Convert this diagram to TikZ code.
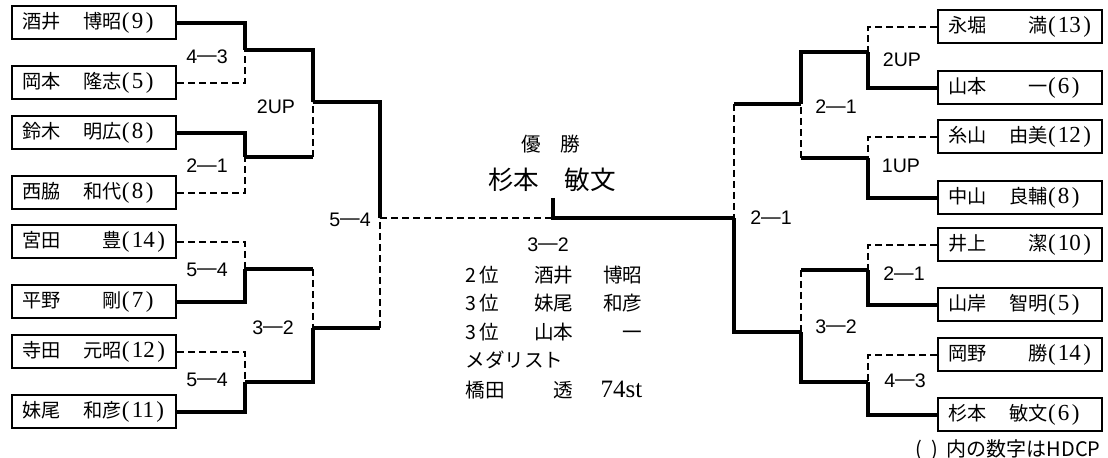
\documentclass[tikz,border=0pt]{standalone}
\usepackage{fontspec}
\setmainfont{Liberation Serif}
\newfontfamily\jp{Noto Sans CJK JP}
\newfontfamily\gothic{Liberation Sans}
\usepackage{tikz}

\newcommand{\hdcp}[1]{{\rmfamily\fontsize{11.5}{12}\selectfont(\kern.1em#1\kern.1em)}}
\newcommand{\pname}[3]{\makebox[50pt]{\jp #1\hfill #2}\hdcp{#3}}
\newcommand{\mscore}[2]{#1\raisebox{.09em}{—}#2}
\newcommand{\rrow}[3]{\makebox[54pt]{#1\hfill #2}\makebox[34.5pt][r]{#3}}

\tikzset{
  player/.style = {draw , line width = 1pt , minimum width = 82pt , minimum height = 16.5pt ,
    inner xsep = 5pt , inner ysep = 0pt , text width = 72pt , align = left , font = \fontsize{9.6}{10}\selectfont},
  win/.style = {line width = 1.6pt},
  lose/.style = {line width = 0.8pt , dash pattern = on 3.5pt off 2pt},
  score/.style = {font = \gothic\fontsize{9.8}{10}\selectfont , inner sep = 0pt},
  rank/.style = {font = \jp\fontsize{9.8}{10}\selectfont , inner sep = 0pt , anchor = west},
}

\begin{document}
\begin{tikzpicture}[x = 0.5pt , y = -0.5pt]
    \useasboundingbox (0,0) rectangle (1108,458);

    % left half
    \node[player , anchor = east] (L1) at (177,23) {\pname{酒井}{博昭}{9}};
    \node[player , anchor = east] (L2) at (177,83) {\pname{岡本}{隆志}{5}};
    \node[player , anchor = east] (L3) at (177,133) {\pname{鈴木}{明広}{8}};
    \node[player , anchor = east] (L4) at (177,193) {\pname{西脇}{和代}{8}};
    \node[player , anchor = east] (L5) at (177,242) {\pname{宮田}{豊}{14}};
    \node[player , anchor = east] (L6) at (177,302) {\pname{平野}{剛}{7}};
    \node[player , anchor = east] (L7) at (177,352) {\pname{寺田}{元昭}{12}};
    \node[player , anchor = east] (L8) at (177,412) {\pname{妹尾}{和彦}{11}};

    % right half
    \node[player , anchor = west] (R1) at (937,27) {\pname{永堀}{満}{13}};
    \node[player , anchor = west] (R2) at (937,88) {\pname{山本}{一}{6}};
    \node[player , anchor = west] (R3) at (937,137) {\pname{糸山}{由美}{12}};
    \node[player , anchor = west] (R4) at (937,198) {\pname{中山}{良輔}{8}};
    \node[player , anchor = west] (R5) at (937,245) {\pname{井上}{潔}{10}};
    \node[player , anchor = west] (R6) at (937,305) {\pname{山岸}{智明}{5}};
    \node[player , anchor = west] (R7) at (937,355) {\pname{岡野}{勝}{14}};
    \node[player , anchor = west] (R8) at (937,415) {\pname{杉本}{敏文}{6}};

    % junctions
    \coordinate (a1) at (245,50);
    \coordinate (a2) at (245,157);
    \coordinate (a3) at (245,269);
    \coordinate (a4) at (245,382);
    \coordinate (b1) at (313,102);
    \coordinate (b2) at (313,328);
    \coordinate (c1) at (380,218);
    \coordinate (fin) at (553,218);
    \coordinate (cup) at (553,198);
    \coordinate (d1) at (868,52);
    \coordinate (d2) at (868,158);
    \coordinate (d3) at (868,270);
    \coordinate (d4) at (868,382);
    \coordinate (e1) at (801,104);
    \coordinate (e2) at (801,332);
    \coordinate (c2) at (734,218);

    % first round
    \draw[win] (L1.east) -| (a1);
    \draw[lose] (L2.east) -| (a1);
    \draw[win] (L3.east) -| (a2);
    \draw[lose] (L4.east) -| (a2);
    \draw[lose] (L5.east) -| (a3);
    \draw[win] (L6.east) -| (a3);
    \draw[lose] (L7.east) -| (a4);
    \draw[win] (L8.east) -| (a4);
    \draw[lose] (R1.west) -| (d1);
    \draw[win] (R2.west) -| (d1);
    \draw[lose] (R3.west) -| (d2);
    \draw[win] (R4.west) -| (d2);
    \draw[lose] (R5.west) -| (d3);
    \draw[win] (R6.west) -| (d3);
    \draw[lose] (R7.west) -| (d4);
    \draw[win] (R8.west) -| (d4);

    % second round
    \draw[win] (a1) -| (b1);
    \draw[win] (a2) -- (a2 -| b1);
    \draw[lose] (a2 -| b1) -- (b1);
    \draw[win] (a3) -- (a3 -| b2);
    \draw[lose] (a3 -| b2) -- (b2);
    \draw[win] (a4) -| (b2);
    \draw[win] (d1) -| (e1);
    \draw[win] (d2) -- (d2 -| e1);
    \draw[lose] (d2 -| e1) -- (e1);
    \draw[win] (d3) -- (d3 -| e2);
    \draw[lose] (d3 -| e2) -- (e2);
    \draw[win] (d4) -| (e2);

    % semi-finals and final
    \draw[win] (b1) -| (c1);
    \draw[win] (b2) -- (b2 -| c1);
    \draw[lose] (b2 -| c1) -- (c1);
    \draw[win] (e1) -- (e1 -| c2);
    \draw[lose] (e1 -| c2) -- (c2);
    \draw[win] (e2) -| (c2);
    \draw[lose] (c1) -- (fin);
    \draw[win] (cup) -- (fin) -- (c2);

    % scores
    \node[score] (s1) at (207,57) {\mscore{4}{3}};
    \node[score] (s2) at (207,166) {\mscore{2}{1}};
    \node[score] (s3) at (207,270) {\mscore{5}{4}};
    \node[score] (s4) at (207,380) {\mscore{5}{4}};
    \node[score] (s5) at (276,107) {2UP};
    \node[score] (s6) at (273,328) {\mscore{3}{2}};
    \node[score] (s7) at (350,220) {\mscore{5}{4}};
    \node[score] (t1) at (902,60) {2UP};
    \node[score] (t2) at (901,166) {1UP};
    \node[score] (t3) at (904,274) {\mscore{2}{1}};
    \node[score] (t4) at (905,381) {\mscore{4}{3}};
    \node[score] (t5) at (836,107) {\mscore{2}{1}};
    \node[score] (t6) at (836,327) {\mscore{3}{2}};
    \node[score] (t7) at (771,218) {\mscore{2}{1}};

    % winner and ranking
    \node[font = \jp\fontsize{9.8}{10}\selectfont] (title) at (551,144) {優　勝};
    \node[font = \jp\fontsize{12.8}{13}\selectfont] (champ) at (552,180) {杉本　敏文};
    \node[score] (fscore) at (548,245) {\mscore{3}{2}};
    \node[rank] (rk2) at (465,275) {\rrow{2\,位}{酒井}{博昭}};
    \node[rank] (rk3) at (465,303) {\rrow{3\,位}{妹尾}{和彦}};
    \node[rank] (rk4) at (465,332) {\rrow{3\,位}{山本}{一}};
    \node[rank] (medal) at (465,360) {メダリスト};
    \node[rank] (rk5) at (465,390) {\rrow{橋田}{透}{\rmfamily\fontsize{12.5}{13}\selectfont 74st}};
    \node[font = \jp\fontsize{10}{11}\selectfont , inner sep = 0pt , anchor = east] (note) at (1101,450) {(\ \ )\ \ 内の数字はHDCP};
\end{tikzpicture}
\end{document}
